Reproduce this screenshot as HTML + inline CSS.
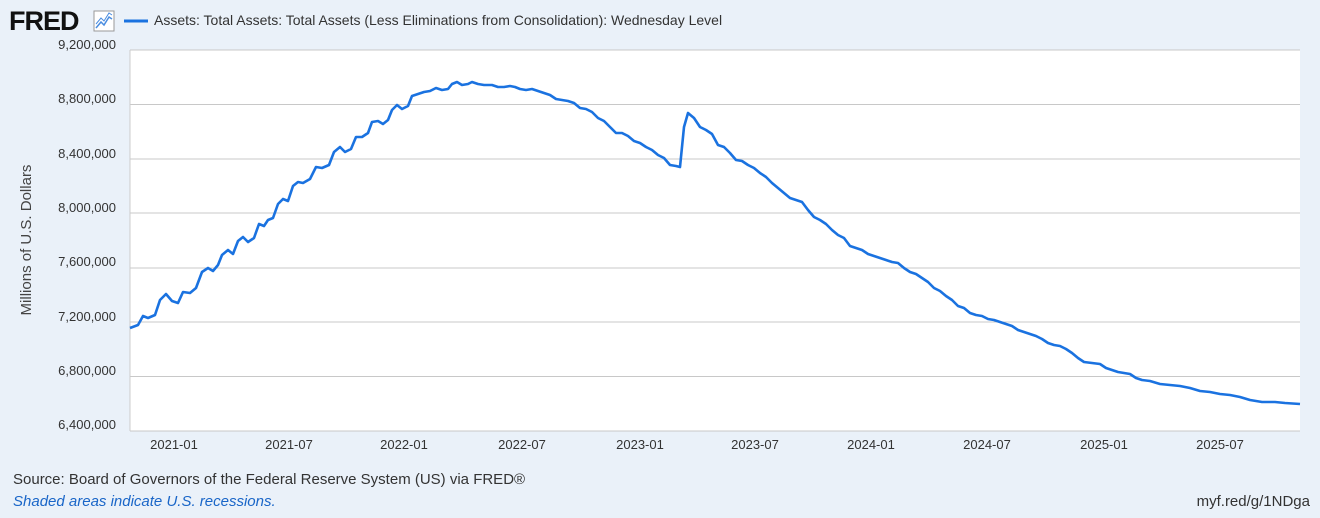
<!DOCTYPE html>
<html><head><style>
body{margin:0;width:1320px;height:513px;background:#eaf1f9;font-family:"Liberation Sans",sans-serif;overflow:hidden}
</style></head><body>
<svg width="1320" height="513" xmlns="http://www.w3.org/2000/svg" font-family="Liberation Sans, sans-serif">
<rect x="0" y="0" width="1320" height="513" fill="#eaf1f9"/>
<text x="9" y="30" font-size="27" font-weight="bold" fill="#111" letter-spacing="-1">FRED</text>
<rect x="94" y="11" width="20" height="20" fill="#fff" stroke="#999" stroke-width="1"/>
<polyline points="96,28 101,22 104,25 109,17 112,19" fill="none" stroke="#4a8de0" stroke-width="1.5"/>
<polyline points="96,24 101,18 104,21 109,13 112,15" fill="none" stroke="#4a8de0" stroke-width="1"/>
<line x1="124" y1="21" x2="148" y2="21" stroke="#1a72e0" stroke-width="3"/>
<text x="154" y="25" font-size="14" fill="#333">Assets: Total Assets: Total Assets (Less Eliminations from Consolidation): Wednesday Level</text>
<rect x="130" y="50" width="1170" height="381" fill="#fff"/>
<g stroke="#c8c8c8" stroke-width="1">
<line x1="130" y1="104.5" x2="1300" y2="104.5"/><line x1="130" y1="159" x2="1300" y2="159"/>
<line x1="130" y1="213" x2="1300" y2="213"/><line x1="130" y1="268" x2="1300" y2="268"/>
<line x1="130" y1="322" x2="1300" y2="322"/><line x1="130" y1="376.5" x2="1300" y2="376.5"/>
<line x1="130" y1="431" x2="1300" y2="431"/><line x1="130" y1="50" x2="1300" y2="50"/>
</g>
<line x1="130" y1="50" x2="130" y2="431" stroke="#ccc"/>
<g font-size="13" fill="#333" text-anchor="end">
<text x="116" y="49">9,200,000</text><text x="116" y="103">8,800,000</text><text x="116" y="158">8,400,000</text>
<text x="116" y="212">8,000,000</text><text x="116" y="266">7,600,000</text><text x="116" y="321">7,200,000</text>
<text x="116" y="375">6,800,000</text><text x="116" y="429">6,400,000</text>
</g>
<g font-size="13" fill="#333" text-anchor="middle">
<text x="174" y="449">2021-01</text><text x="289" y="449">2021-07</text><text x="404" y="449">2022-01</text>
<text x="522" y="449">2022-07</text><text x="640" y="449">2023-01</text><text x="755" y="449">2023-07</text>
<text x="871" y="449">2024-01</text><text x="987" y="449">2024-07</text><text x="1104" y="449">2025-01</text>
<text x="1220" y="449">2025-07</text>
</g>
<text transform="translate(31,240) rotate(-90)" font-size="15" fill="#444" text-anchor="middle">Millions of U.S. Dollars</text>
<polyline fill="none" stroke="#1a72e0" stroke-width="2.6" stroke-linejoin="round" points="130,328 138,325 143,316 148,318 155,315 160,300 166,294 172,301 178,303 183,292 190,293 196,288 202,272 208,268 213,271 218,265 222,255 228,250 233,254 238,241 243,237 248,242 254,238 259,224 264,226 268,220 273,218 278,204 283,199 288,201 293,186 298,182 303,183 310,179 316,167 322,168 329,165 334,152 340,147 345,152 351,149 356,137 362,137 368,133 372,122 378,121 383,124 388,120 392,110 397,105 402,109 408,106 412,96 418,94 424,92 430,91 436,88 442,90 448,89 452,84 457,82 462,85 468,84 472,82 478,84 484,85 492,85 498,87 504,87 510,86 515,87 520,89 526,90 532,89 538,91 544,93 550,95 556,99 562,100 568,101 574,103 580,108 586,109 592,112 598,118 604,121 610,127 616,133 622,133 628,136 634,141 640,143 646,147 652,150 658,155 664,158 670,165 676,166 680,167 684,127 688,113 694,118 700,127 706,130 712,134 718,145 724,147 730,153 736,160 742,161 748,165 754,168 760,173 766,177 772,183 778,188 784,193 790,198 796,200 802,202 808,210 814,217 820,220 826,224 832,230 838,235 844,238 850,246 856,248 862,250 868,254 874,256 880,258 886,260 892,262 898,263 904,268 910,272 916,274 922,278 928,282 934,288 940,291 946,296 952,300 958,306 964,308 970,313 976,315 982,316 988,319 994,320 1000,322 1006,324 1012,326 1018,330 1024,332 1030,334 1036,336 1042,339 1048,343 1054,345 1060,346 1066,349 1072,353 1078,358 1084,362 1092,363 1100,364 1106,368 1112,370 1118,372 1124,373 1130,374 1136,378 1142,380 1150,381 1160,384 1170,385 1180,386 1190,388 1200,391 1210,392 1220,394 1230,395 1240,397 1250,400 1262,402 1275,402 1285,403 1300,404"/>
<text x="13" y="484" font-size="15" fill="#333">Source: Board of Governors of the Federal Reserve System (US) via FRED®</text>
<text x="13" y="506" font-size="15" fill="#1a66c8" font-style="italic">Shaded areas indicate U.S. recessions.</text>
<text x="1310" y="506" font-size="15" fill="#333" text-anchor="end">myf.red/g/1NDga</text>
</svg>
</body></html>
